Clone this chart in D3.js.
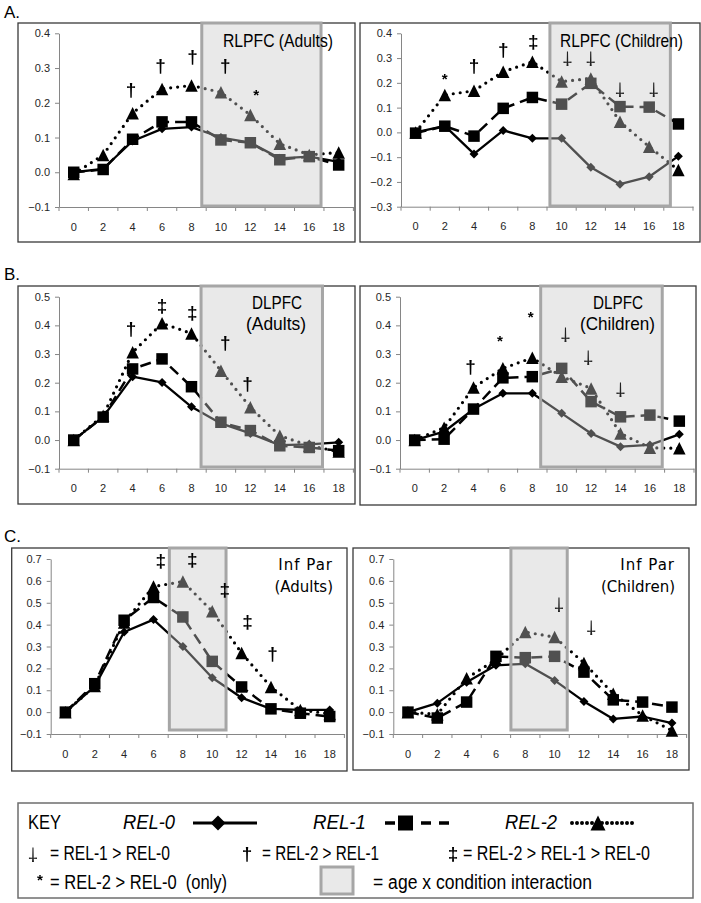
<!DOCTYPE html>
<html><head><meta charset="utf-8">
<script src="https://cdn.jsdelivr.net/npm/d3@7"></script>
<style>body{margin:0;background:#fff;} svg{display:block}</style>
</head><body>
<svg id="c" width="701" height="903"></svg>
<script>
// ---------- DATA ----------
const ages = [0, 2, 4, 6, 8, 10, 12, 14, 16, 18];
const seriesNames = ["REL-0", "REL-1", "REL-2"];

const rlpfcAdultsRel0 = [0.0, 0.01, 0.09, 0.125, 0.13, 0.10, 0.085, 0.04, 0.045, 0.03];
const rlpfcAdultsRel1 = [0.0, 0.008, 0.095, 0.145, 0.145, 0.093, 0.085, 0.036, 0.045, 0.021];
const rlpfcAdultsRel2 = [-0.005, 0.05, 0.17, 0.24, 0.25, 0.23, 0.165, 0.082, 0.05, 0.057];

const rlpfcChildrenRel0 = [0.0, 0.026, -0.087, 0.008, -0.024, -0.024, -0.141, -0.209, -0.179, -0.096];
const rlpfcChildrenRel1 = [-0.003, 0.025, -0.015, 0.097, 0.141, 0.114, 0.198, 0.104, 0.102, 0.034];
const rlpfcChildrenRel2 = [0.0, 0.151, 0.168, 0.245, 0.285, 0.205, 0.218, 0.043, -0.058, -0.152];

const dlpfcAdultsRel0 = [0.0, 0.081, 0.221, 0.201, 0.116, 0.058, 0.023, -0.018, -0.015, -0.008];
const dlpfcAdultsRel1 = [0.0, 0.08, 0.248, 0.283, 0.186, 0.062, 0.033, -0.02, -0.026, -0.037];
const dlpfcAdultsRel2 = [0.0, 0.085, 0.306, 0.407, 0.372, 0.242, 0.114, 0.015, -0.02, -0.04];

const dlpfcChildrenRel0 = [0.0, 0.029, 0.108, 0.163, 0.163, 0.093, 0.023, -0.023, -0.017, 0.02];
const dlpfcChildrenRel1 = [0.0, 0.003, 0.108, 0.217, 0.221, 0.25, 0.134, 0.081, 0.087, 0.066];
const dlpfcChildrenRel2 = [0.0, 0.043, 0.183, 0.25, 0.287, 0.221, 0.18, 0.023, -0.027, -0.029];

const infParAdultsRel0 = [0.0, 0.118, 0.366, 0.423, 0.30, 0.157, 0.066, 0.015, 0.01, 0.01];
const infParAdultsRel1 = [0.0, 0.13, 0.42, 0.524, 0.435, 0.232, 0.115, 0.015, -0.005, -0.02];
const infParAdultsRel2 = [0.0, 0.12, 0.41, 0.574, 0.597, 0.461, 0.27, 0.115, 0.01, -0.008];

const infParChildrenRel0 = [0.0, 0.041, 0.137, 0.214, 0.221, 0.145, 0.049, -0.031, -0.02, -0.05];
const infParChildrenRel1 = [0.0, -0.027, 0.046, 0.255, 0.249, 0.255, 0.183, 0.056, 0.046, 0.023];
const infParChildrenRel2 = [0.0, -0.01, 0.155, 0.24, 0.366, 0.343, 0.225, 0.084, -0.015, -0.084];

// y tick labels
const ticksRlpfcAdults = [-0.1, 0.0, 0.1, 0.2, 0.3, 0.4];
const ticksRlpfcChildren = [-0.3, -0.2, -0.1, 0.0, 0.1, 0.2, 0.3, 0.4];
const ticksDlpfc = [-0.1, 0.0, 0.1, 0.2, 0.3, 0.4, 0.5];
const ticksInfPar = [-0.1, 0.0, 0.1, 0.2, 0.3, 0.4, 0.5, 0.6, 0.7];

// age x condition interaction ranges (in age units)
const shadeRlpfcAdults = [8.7, 16.8];
const shadeRlpfcChildren = [9.2, 17.45];
const shadeDlpfcAdults = [8.65, 16.9];
const shadeDlpfcChildren = [8.57, 16.84];
const shadeInfParAdults = [7.08, 10.94];
const shadeInfParChildren = [7.02, 10.86];

// significance markers: [age, value, symbol]
const sigRlpfcAdults = [[3.9, 0.238, "†"], [5.9, 0.308, "†"], [8.07, 0.332, "†"], [10.3, 0.308, "†"], [12.4, 0.234, "*"]];
const sigRlpfcChildren = [[2.0, 0.231, "*"], [4.0, 0.271, "†"], [6.0, 0.336, "†"], [8.06, 0.366, "‡"], [10.4, 0.295, "⸸"], [12.0, 0.295, "⸸"], [14.0, 0.168, "⸸"], [16.3, 0.168, "⸸"]];
const sigDlpfcAdults = [[3.9, 0.39, "†"], [6.0, 0.469, "‡"], [8.06, 0.445, "‡"], [10.3, 0.34, "†"], [11.8, 0.198, "†"]];
const sigDlpfcChildren = [[3.8, 0.256, "†"], [5.8, 0.357, "*"], [7.9, 0.442, "*"], [10.25, 0.363, "⸸"], [11.8, 0.285, "⸸"], [14.0, 0.172, "⸸"]];
const sigInfParAdults = [[6.5, 0.695, "‡"], [8.65, 0.698, "‡"], [10.85, 0.559, "‡"], [12.4, 0.415, "‡"], [14.1, 0.267, "†"]];
const sigInfParChildren = [[10.3, 0.489, "⸸"], [12.5, 0.382, "⸸"]];

const panelLetters = ["A.", "B.", "C."];
const sigMeanings = ["= REL-1 > REL-0", "= REL-2 > REL-1", "= REL-2 > REL-1 > REL-0", "= REL-2 > REL-0  (only)"];
const shadeMeaning = "= age x condition interaction";

// ---------- LAYOUT ----------
const CAL = "'Liberation Sans', Arial, sans-serif";
const panels = [
  {series: [rlpfcAdultsRel0, rlpfcAdultsRel1, rlpfcAdultsRel2], ticks: ticksRlpfcAdults, shade: shadeRlpfcAdults, sig: sigRlpfcAdults,
   box: [18, 23, 355, 242], axisX: 59, axisEnd: 353.4, yDom: [-0.1, 0.4], yRange: [207, 33.3], shadeBottom: 206,
   title: [{t: "RLPFC (Adults)", x: 223, y: 46.5, w: 110}], tfont: CAL, tsize: 19},
  {series: [rlpfcChildrenRel0, rlpfcChildrenRel1, rlpfcChildrenRel2], ticks: ticksRlpfcChildren, shade: shadeRlpfcChildren, sig: sigRlpfcChildren,
   box: [360, 23, 700, 242], axisX: 401, axisEnd: 693, yDom: [-0.3, 0.4], yRange: [206.7, 33.3], shadeBottom: 206,
   title: [{t: "RLPFC (Children)", x: 560, y: 46.5, w: 123}], tfont: CAL, tsize: 19},
  {series: [dlpfcAdultsRel0, dlpfcAdultsRel1, dlpfcAdultsRel2], ticks: ticksDlpfc, shade: shadeDlpfcAdults, sig: sigDlpfcAdults,
   box: [18, 286, 355, 504], axisX: 59, axisEnd: 353.4, yDom: [-0.1, 0.5], yRange: [468.7, 296.7], shadeBottom: 467,
   title: [{t: "DLPFC", x: 252, y: 308.5, w: 50}, {t: "(Adults)", x: 246, y: 330, w: 60}], tfont: CAL, tsize: 19},
  {series: [dlpfcChildrenRel0, dlpfcChildrenRel1, dlpfcChildrenRel2], ticks: ticksDlpfc, shade: shadeDlpfcChildren, sig: sigDlpfcChildren,
   box: [360, 286, 696, 505], axisX: 400, axisEnd: 694, yDom: [-0.1, 0.5], yRange: [468.7, 296.7], shadeBottom: 467,
   title: [{t: "DLPFC", x: 593, y: 308.5, w: 50}, {t: "(Children)", x: 580, y: 330, w: 75}], tfont: CAL, tsize: 19},
  {series: [infParAdultsRel0, infParAdultsRel1, infParAdultsRel2], ticks: ticksInfPar, shade: shadeInfParAdults, sig: sigInfParAdults,
   box: [11.7, 548, 347, 771], axisX: 50.7, axisEnd: 344.4, yDom: [-0.1, 0.7], yRange: [734, 559], shadeBottom: 730,
   title: [{t: "Inf Par", x: 333, y: 570, a: "end", ls: 1}, {t: "(Adults)", x: 333, y: 592, a: "end"}], tfont: "'DejaVu Sans', sans-serif", tsize: 15},
  {series: [infParChildrenRel0, infParChildrenRel1, infParChildrenRel2], ticks: ticksInfPar, shade: shadeInfParChildren, sig: sigInfParChildren,
   box: [353, 548, 689, 770], axisX: 393.3, axisEnd: 686.6, yDom: [-0.1, 0.7], yRange: [734, 559], shadeBottom: 730,
   title: [{t: "Inf Par", x: 675, y: 570, a: "end", ls: 1}, {t: "(Children)", x: 675, y: 592, a: "end"}], tfont: "'DejaVu Sans', sans-serif", tsize: 15}
];
const letterPos = [[4, 18], [4, 280], [4, 542]];

const seriesStyle = {
  "REL-0": {w: 2.3, dash: null, cap: "butt", marker: "diamond", ms: 9},
  "REL-1": {w: 2.5, dash: "11 6", cap: "butt", marker: "square", ms: 11.5},
  "REL-2": {w: 3.2, dash: "0 7", cap: "round", marker: "triangle", ms: 12.5}
};

// custom marker types
const diamondType = {draw(ctx, size) { const r = Math.sqrt(size) / 2; ctx.moveTo(0, -r); ctx.lineTo(r, 0); ctx.lineTo(0, r); ctx.lineTo(-r, 0); ctx.closePath(); }};
const squareType = {draw(ctx, size) { const r = Math.sqrt(size) / 2; ctx.rect(-r, -r, 2 * r, 2 * r); }};
const triangleType = {draw(ctx, size) { const r = Math.sqrt(size) / 2; ctx.moveTo(0, -r); ctx.lineTo(r, r); ctx.lineTo(-r, r); ctx.closePath(); }};
const markerType = {diamond: diamondType, square: squareType, triangle: triangleType};
function markerPath(name, px) { return d3.symbol().type(markerType[name]).size(px * px)(); }

const svg = d3.select("#c");

function fitText(sel, w) {
  if (w) sel.attr("textLength", w).attr("lengthAdjust", "spacingAndGlyphs");
  return sel;
}

function drawSig(g, sym, cx, cy, size) {
  const t = g.append("text").attr("x", cx).attr("text-anchor", "middle").attr("dominant-baseline", "central")
    .attr("font-family", "'Liberation Sans', sans-serif").attr("fill", "#000");
  if (sym === "⸸") {
    t.text("†").attr("y", cy).attr("font-size", size).attr("fill", "#222").attr("transform", `rotate(180 ${cx} ${cy})`);
  } else if (sym === "*") {
    t.text("*").attr("y", cy + size * 0.16).attr("font-weight", "bold").attr("font-size", size * 0.8);
  } else {
    t.text(sym).attr("y", cy).attr("font-size", size).attr("font-weight", "bold");
  }
}

panels.forEach(p => {
  const g = svg.append("g");
  g.append("rect").attr("x", p.box[0]).attr("y", p.box[1])
    .attr("width", p.box[2] - p.box[0]).attr("height", p.box[3] - p.box[1])
    .attr("fill", "#fff").attr("stroke", "#3a3a3a").attr("stroke-width", 1.3);

  const band = d3.scaleBand().domain(ages).range([p.axisX, p.axisEnd]).padding(0);
  const bw = band.bandwidth();
  const x = d3.scaleLinear().domain([0, 18]).range([band(0) + bw / 2, band(18) + bw / 2]);
  const y = d3.scaleLinear().domain(p.yDom).range(p.yRange);
  const axisY = y(p.yDom[0]);

  // y axis
  const ya = g.append("g").attr("transform", `translate(${p.axisX},0)`)
    .call(d3.axisLeft(y).tickValues(p.ticks).tickFormat(d3.format(".1f")).tickSize(4).tickSizeOuter(0).tickPadding(5));
  ya.select(".domain").attr("stroke", "#868686");
  ya.selectAll(".tick line").attr("stroke", "#868686");
  ya.selectAll(".tick text").attr("fill", "#262626").attr("font-family", "'Liberation Sans', Arial, sans-serif").attr("font-size", 11);

  // x axis
  const xa = g.append("g").attr("transform", `translate(0,${axisY})`)
    .call(d3.axisBottom(band).tickSize(0).tickSizeOuter(0).tickPadding(16));
  xa.select(".domain").attr("stroke", "#868686");
  xa.selectAll(".tick text").attr("fill", "#262626").attr("font-family", "'Liberation Sans', Arial, sans-serif").attr("font-size", 11);
  g.append("g").selectAll("line").data(d3.range(ages.length + 1)).join("line")
    .attr("x1", i => p.axisX + i * bw).attr("x2", i => p.axisX + i * bw)
    .attr("y1", axisY).attr("y2", axisY + 4).attr("stroke", "#868686");

  // series, drawn REL-2 first, REL-0 last
  [2, 1, 0].forEach(si => {
    const name = seriesNames[si];
    const st = seriesStyle[name];
    const vals = p.series[si];
    const sg = g.append("g");
    sg.append("path").datum(vals)
      .attr("d", d3.line().x((d, i) => x(ages[i])).y(d => y(d)))
      .attr("fill", "none").attr("stroke", "#000").attr("stroke-width", st.w)
      .attr("stroke-dasharray", st.dash).attr("stroke-linecap", st.cap).attr("stroke-linejoin", "round");
    sg.selectAll("path.m").data(vals).join("path").attr("class", "m")
      .attr("d", markerPath(st.marker, st.ms))
      .attr("transform", (d, i) => `translate(${x(ages[i])},${y(d)})`)
      .attr("fill", "#000");
  });

  // interaction shading
  const sx0 = x(p.shade[0]), sx1 = x(p.shade[1]);
  g.append("rect").attr("x", sx0).attr("y", p.box[1]).attr("width", sx1 - sx0).attr("height", p.shadeBottom - p.box[1])
    .attr("fill", "#c8c8c8").attr("fill-opacity", 0.4).attr("stroke", "#a6a6a6").attr("stroke-width", 3);

  // titles
  p.title.forEach(t => {
    fitText(g.append("text").text(t.t).attr("x", t.x).attr("y", t.y).attr("text-anchor", t.a || "start")
      .attr("font-family", p.tfont).attr("font-size", p.tsize).attr("fill", "#000")
      .attr("letter-spacing", t.ls || 0), t.w);
  });

  // significance symbols
  const sgg = g.append("g").style("filter", "grayscale(1)");
  p.sig.forEach(s => drawSig(sgg, s[2], x(s[0]), y(s[1]), 19));
});

panelLetters.forEach((l, i) => {
  svg.append("text").text(l).attr("x", letterPos[i][0]).attr("y", letterPos[i][1])
    .attr("font-family", "'Liberation Sans', sans-serif").attr("font-size", 17).attr("fill", "#000");
});

// ---------- LEGEND ----------
const lg = svg.append("g");
lg.append("rect").attr("x", 18).attr("y", 803).attr("width", 675).attr("height", 95)
  .attr("fill", "#fff").attr("stroke", "#6e6e6e").attr("stroke-width", 1.5);
fitText(lg.append("text").text("KEY").attr("x", 28).attr("y", 829).attr("font-family", CAL).attr("font-size", 20), 33);
const legX = [123, 313, 505];
const legW = [52, 53, 52];
const legLine = [[193, 257, 218], [385, 452, 405.5], [572, 637, 598]];
const legMarkerSize = [15, 15, 15];
seriesNames.forEach((n, i) => {
  const st = seriesStyle[n];
  fitText(lg.append("text").text(n).attr("x", legX[i]).attr("y", 829).attr("font-family", CAL)
    .attr("font-style", "italic").attr("font-size", 20), legW[i]);
  lg.append("line").attr("x1", legLine[i][0]).attr("x2", legLine[i][1]).attr("y1", 823).attr("y2", 823)
    .attr("stroke", "#000").attr("stroke-width", st.w + 0.8)
    .attr("stroke-dasharray", st.dash ? (i === 2 ? "0 5" : "10 8") : null).attr("stroke-linecap", st.cap);
  lg.append("path").attr("d", markerPath(st.marker, legMarkerSize[i]))
    .attr("transform", `translate(${legLine[i][2]},823)`).attr("fill", "#000");
});
// [symbol, symbol x, symbol centre y, text x, baseline, text width]
const sigLegend = [["⸸", 33, 855, 50, 860, 120], ["†", 247, 853, 262, 860, 117], ["‡", 453, 853, 463, 860, 187], ["*", 40, 876, 50, 889, 177]];
const lgs = lg.append("g").style("filter", "grayscale(1)");
sigLegend.forEach((s, i) => {
  drawSig(lgs, s[0], s[1], s[2], 19);
  fitText(lg.append("text").text(sigMeanings[i]).attr("x", s[3]).attr("y", s[4])
    .attr("font-family", CAL).attr("font-size", 20).attr("fill", "#000").style("white-space", "pre"), s[5]);
});
lg.append("rect").attr("x", 321).attr("y", 867).attr("width", 32).attr("height", 27)
  .attr("fill", "#e9e9e9").attr("stroke", "#a6a6a6").attr("stroke-width", 3);
fitText(lg.append("text").text(shadeMeaning).attr("x", 373).attr("y", 889)
  .attr("font-family", CAL).attr("font-size", 20).attr("fill", "#000"), 219);
</script>
</body></html>
